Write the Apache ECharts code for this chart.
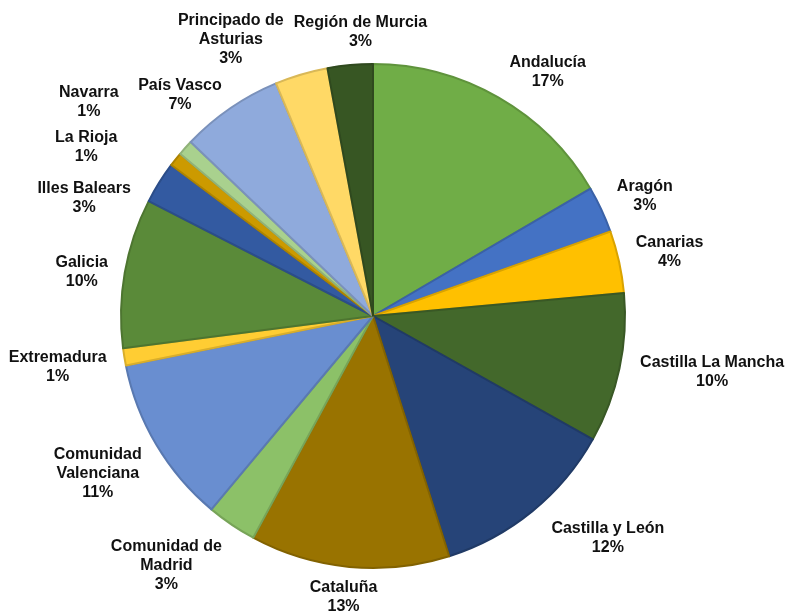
<!DOCTYPE html>
<html>
<head>
<meta charset="utf-8">
<script src="https://cdn.jsdelivr.net/npm/echarts@6/dist/echarts.min.js"></script>
<style>
  html, body { margin: 0; padding: 0; background: #fff; }
  #chart { width: 788px; height: 612px; }
</style>
</head>
<body>
<div id="chart"></div>
<script>
// comunidades autónomas, clockwise from 12 o'clock
const regions = [
  'Andalucía', 'Aragón', 'Canarias', 'Castilla La Mancha', 'Castilla y León',
  'Cataluña', 'Comunidad de\nMadrid', 'Comunidad\nValenciana', 'Extremadura',
  'Galicia', 'Illes Balears', 'La Rioja', 'Navarra', 'País Vasco',
  'Principado de\nAsturias', 'Región de Murcia'
]
// share of total (%)
const shares = [16.6, 3.0, 4.0, 9.6, 12.0, 12.8, 3.2, 10.8, 1.1, 9.6, 2.7, 0.9, 1.0, 6.6, 3.4, 2.9]
const colors = [
  '#70AD47', '#4472C4', '#FFC000', '#43682B', '#264478',
  '#997300', '#8CC168', '#698ED0', '#FFCD33', '#5A8A39',
  '#335AA1', '#CC9A00', '#A9D18E', '#8FAADC', '#FFD966', '#375623'
]

// label nudges where Excel moved labels off their natural spot
const labelShift = {
  'Andalucía': [19, 2],
  'Canarias': [0, -3],
  'Castilla La Mancha': [4, -3],
  'Castilla y León': [19, 0],
  'Cataluña': [-1, 1],
  'Comunidad de\nMadrid': [-18, 4],
  'Comunidad\nValenciana': [0, 7],
  'Extremadura': [-1, 5],
  'Galicia': [0, 4],
  'Illes Balears': [-14, 33],
  'La Rioja': [-45, 9],
  'Navarra': [-54, -22],
  'País Vasco': [-12, 14],
  'Principado de\nAsturias': [-50, 3],
  'Región de Murcia': [18, -4]
}

const cx = 373, cy = 316, R = 252
const total = shares.reduce((a, b) => a + b, 0)

const darken = (hex, k) => {
  const n = parseInt(hex.slice(1), 16)
  const r = Math.round(((n >> 16) & 255) * k)
  const g = Math.round(((n >> 8) & 255) * k)
  const b = Math.round((n & 255) * k)
  return 'rgb(' + r + ',' + g + ',' + b + ')'
}

// mid angle of each slice (clockwise from north, radians)
const midAngles = []
let acc = 0
shares.forEach(v => {
  midAngles.push((acc + v / 2) / total * Math.PI * 2)
  acc += v
})

const chart = echarts.init(document.getElementById('chart'))
chart.setOption({
  animation: false,
  color: colors,
  series: [{
    type: 'pie',
    center: [cx, cy],
    radius: R,
    startAngle: 90,
    clockwise: true,
    avoidLabelOverlap: false,
    data: regions.map((name, i) => ({
      name,
      value: shares[i],
      itemStyle: { borderColor: darken(colors[i], 0.85), borderWidth: 2 }
    })),
    label: {
      show: true,
      position: 'outside',
      fontFamily: 'Liberation Sans, Arial, sans-serif',
      fontWeight: 'bold',
      fontSize: 16,
      lineHeight: 19,
      color: '#111',
      align: 'center',
      formatter: p => p.name + '\n' + Math.round(p.value / total * 100) + '%'
    },
    labelLine: { show: false },
    labelLayout: params => {
      const a = midAngles[params.dataIndex]
      const dx = Math.sin(a), dy = -Math.cos(a)
      const px = cx + dx * (R + 10), py = cy + dy * (R + 10)
      const m = Math.max(Math.abs(dx), Math.abs(dy))
      const w = params.labelRect.width, h = params.labelRect.height
      const s = labelShift[regions[params.dataIndex]] || [0, 0]
      return {
        x: px + w / 2 * dx / m + 7 * dx + s[0],
        y: py + h / 2 * dy / m + s[1],
        align: 'center',
        verticalAlign: 'middle'
      }
    }
  }]
})
</script>
</body>
</html>
